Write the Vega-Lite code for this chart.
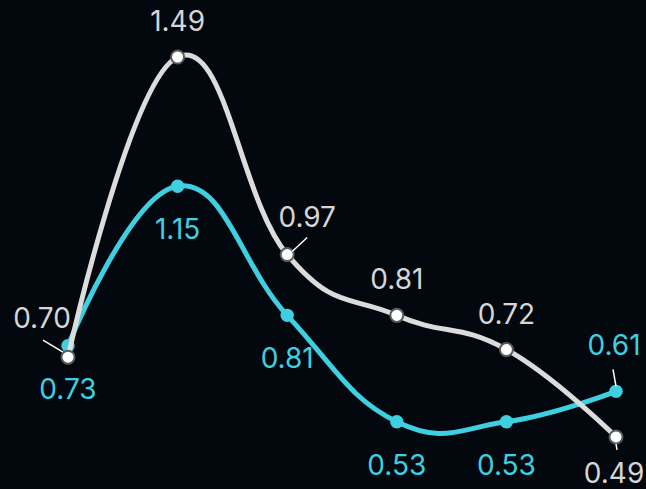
{
  "$schema": "https://vega.github.io/schema/vega-lite/v6.json",
  "width": 646,
  "height": 489,
  "padding": 0,
  "autosize": {"type": "none"},
  "background": "#03070e",
  "config": {"view": {"stroke": null}, "text": {"font": "Inter", "fontSize": 28, "baseline": "middle", "align": "center"}},
  "data": {
    "values": [
      {"series": "grey", "idx": 0, "value": 0.70},
      {"series": "grey", "idx": 1, "value": 1.49},
      {"series": "grey", "idx": 2, "value": 0.97},
      {"series": "grey", "idx": 3, "value": 0.81},
      {"series": "grey", "idx": 4, "value": 0.72},
      {"series": "grey", "idx": 5, "value": 0.49},
      {"series": "cyan", "idx": 0, "value": 0.73},
      {"series": "cyan", "idx": 1, "value": 1.15},
      {"series": "cyan", "idx": 2, "value": 0.81},
      {"series": "cyan", "idx": 3, "value": 0.53},
      {"series": "cyan", "idx": 4, "value": 0.53},
      {"series": "cyan", "idx": 5, "value": 0.61}
    ]
  },
  "encoding": {
    "x": {"field": "idx", "type": "quantitative", "scale": {"domain": [-0.6204, 5.2737], "nice": false, "zero": false}, "axis": null},
    "y": {"field": "value", "type": "quantitative", "scale": {"domain": [0.353, 1.64], "nice": false, "zero": false}, "axis": null}
  },
  "layer": [
    {
      "transform": [{"filter": "datum.series == 'cyan'"}],
      "mark": {"type": "line", "interpolate": "cardinal", "tension": -0.3, "color": "#3ecfe0", "strokeWidth": 5}
    },
    {
      "transform": [{"filter": "datum.series == 'cyan'"}],
      "mark": {"type": "point", "filled": true, "opacity": 1, "size": 180, "color": "#3ecfe0"}
    },
    {
      "transform": [{"filter": "datum.series == 'grey'"}],
      "mark": {"type": "line", "interpolate": "cardinal", "tension": -0.3, "color": "#dcdcdc", "strokeWidth": 5}
    },
    {
      "transform": [{"filter": "datum.series == 'grey'"}],
      "mark": {"type": "point", "filled": true, "opacity": 1, "size": 170, "fill": "#ffffff", "stroke": "#5a5a5a", "strokeWidth": 2}
    },
    {
      "transform": [{"filter": "datum.series == 'grey' && datum.idx == 0"}],
      "mark": {"type": "rule", "color": "#ffffff", "strokeWidth": 1.5, "xOffset": -5, "yOffset": -5, "x2Offset": -25, "y2Offset": -17},
      "encoding": {"x2": {"field": "idx"}, "y2": {"field": "value"}}
    },
    {
      "transform": [{"filter": "datum.series == 'grey' && datum.idx == 2"}],
      "mark": {"type": "rule", "color": "#ffffff", "strokeWidth": 1.5, "xOffset": 5, "yOffset": -3, "x2Offset": 20, "y2Offset": -17},
      "encoding": {"x2": {"field": "idx"}, "y2": {"field": "value"}}
    },
    {
      "transform": [{"filter": "datum.series == 'grey' && datum.idx == 5"}],
      "mark": {"type": "rule", "color": "#ffffff", "strokeWidth": 1.5, "xOffset": 0, "yOffset": 7, "x2Offset": 1, "y2Offset": 13},
      "encoding": {"x2": {"field": "idx"}, "y2": {"field": "value"}}
    },
    {
      "transform": [{"filter": "datum.series == 'cyan' && datum.idx == 5"}],
      "mark": {"type": "rule", "color": "#ffffff", "strokeWidth": 1.5, "xOffset": -3, "yOffset": -22, "x2Offset": 0, "y2Offset": -5},
      "encoding": {"x2": {"field": "idx"}, "y2": {"field": "value"}}
    },
    {
      "transform": [{"filter": "datum.series == 'grey' && (datum.idx == 1 || datum.idx == 3 || datum.idx == 4)"}],
      "mark": {"type": "text", "color": "#d6d6d6", "dy": -34},
      "encoding": {"text": {"field": "value", "type": "quantitative", "format": ".2f"}}
    },
    {
      "transform": [{"filter": "datum.series == 'grey' && datum.idx == 0"}],
      "mark": {"type": "text", "color": "#d6d6d6", "dx": -26, "dy": -37},
      "encoding": {"text": {"field": "value", "type": "quantitative", "format": ".2f"}}
    },
    {
      "transform": [{"filter": "datum.series == 'grey' && datum.idx == 2"}],
      "mark": {"type": "text", "color": "#d6d6d6", "dx": 20, "dy": -36},
      "encoding": {"text": {"field": "value", "type": "quantitative", "format": ".2f"}}
    },
    {
      "transform": [{"filter": "datum.series == 'grey' && datum.idx == 5"}],
      "mark": {"type": "text", "color": "#d6d6d6", "dx": -2, "dy": 38},
      "encoding": {"text": {"field": "value", "type": "quantitative", "format": ".2f"}}
    },
    {
      "transform": [{"filter": "datum.series == 'cyan' && datum.idx < 5"}],
      "mark": {"type": "text", "color": "#3ecfe0", "dy": 45},
      "encoding": {"text": {"field": "value", "type": "quantitative", "format": ".2f"}}
    },
    {
      "transform": [{"filter": "datum.series == 'cyan' && datum.idx == 5"}],
      "mark": {"type": "text", "color": "#3ecfe0", "dx": -2, "dy": -44},
      "encoding": {"text": {"field": "value", "type": "quantitative", "format": ".2f"}}
    }
  ]
}
